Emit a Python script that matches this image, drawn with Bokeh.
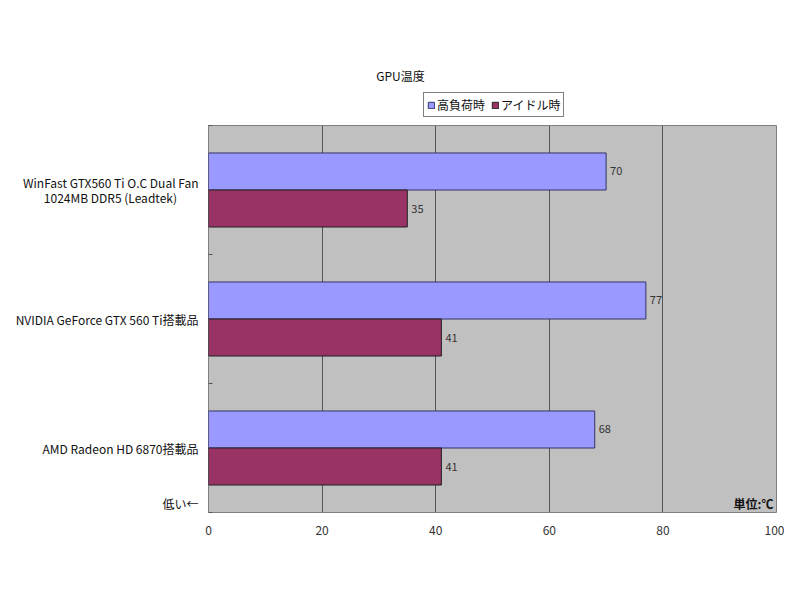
from bokeh.plotting import figure
from bokeh.models import (ColumnDataSource, Range1d, FixedTicker, Legend, LegendItem,
                          Label, LabelSet)
from bokeh.layouts import column
from bokeh.core.properties import value
from bokeh.transform import dodge
from bokeh.embed import file_html
from bokeh.resources import INLINE

NB = "\u00a0"
categories = ["WinFast GTX560 Ti O.C Dual Fan\n1024MB DDR5 (Leadtek)" + NB * 8,
              "NVIDIA GeForce GTX 560 Ti搭載品",
              "AMD Radeon HD 6870搭載品"]
high_load = [70, 77, 68]
idle = [35, 41, 41]
series_names = ["高負荷時", "アイドル時"]
series_colors = ["#9999FF", "#993366"]
x_ticks = [0, 20, 40, 60, 80, 100]
chart_title = "GPU温度"
low_note = "低い←"
unit_note = "単位:℃"

FONT = "Noto Sans CJK JP"
W = 784
TOP_H = 124
FRAME_LEFT = 208

n = len(categories)
centers = [n - i - 0.5 for i in range(n)]

src = ColumnDataSource(dict(y=centers, high=high_load, idle=idle,
                            high_lbl=[str(v) for v in high_load],
                            idle_lbl=[str(v) for v in idle]))

# ---------- header figure: title + legend ----------
# its y range lies far above the data, so its bar renderers only feed the legend
top = figure(width=W, height=TOP_H, output_backend="svg", toolbar_location=None,
             x_range=Range1d(0, 100), y_range=Range1d(100, 200),
             x_axis_type=None, y_axis_type=None,
             min_border_left=0, min_border_right=0,
             min_border_top=0, min_border_bottom=0)
top.grid.visible = False
top.outline_line_color = None
top.background_fill_color = "white"

d1 = top.hbar(y="y", right="high", height=0.287, source=src,
              fill_color=series_colors[0], line_color="#333366")
d2 = top.hbar(y="y", right="idle", height=0.287, source=src,
              fill_color=series_colors[1], line_color="#222222")

top.add_layout(Label(x=400 - FRAME_LEFT, y=TOP_H - 75, x_units="screen", y_units="screen",
                     text=chart_title, text_font=FONT, text_font_size="12px",
                     text_color="#111111", text_align="center", text_baseline="middle"))

legend = Legend(items=[LegendItem(label=series_names[0], renderers=[d1]),
                       LegendItem(label=series_names[1], renderers=[d2])],
                location=(423 - FRAME_LEFT, TOP_H - 117), orientation="horizontal",
                border_line_color="#000000", border_line_width=1,
                background_fill_color="white", background_fill_alpha=1,
                label_text_font=FONT, label_text_font_size="12px",
                label_text_color="#111111",
                glyph_width=8, glyph_height=8, label_standoff=2, spacing=6,
                padding=3, margin=0, label_height=12)
top.add_layout(legend, "center")

# ---------- main bar chart ----------
p = figure(width=W, height=430, output_backend="svg", toolbar_location=None,
           x_range=Range1d(0, 100), y_range=Range1d(0, n),
           min_border_left=FRAME_LEFT, min_border_right=8, min_border_top=1,
           min_border_bottom=42)
p.background_fill_color = "#C0C0C0"
p.border_fill_color = "white"
p.outline_line_color = "#808080"
p.outline_line_width = 1

bar_h = 0.287
r1 = p.hbar(y=dodge("y", bar_h / 2, range=p.y_range), right="high", left=0, height=bar_h,
            source=src, fill_color=series_colors[0], line_color="#333366", line_width=1)
r2 = p.hbar(y=dodge("y", -bar_h / 2, range=p.y_range), right="idle", left=0, height=bar_h,
            source=src, fill_color=series_colors[1], line_color="#222222", line_width=1)

lab_style = dict(text_font=value(FONT), text_font_size="11px", text_color="#333333",
                 text_baseline="middle", x_offset=4)
p.add_layout(LabelSet(x="high", y=dodge("y", bar_h / 2, range=p.y_range), text="high_lbl",
                      source=src, **lab_style))
p.add_layout(LabelSet(x="idle", y=dodge("y", -bar_h / 2, range=p.y_range), text="idle_lbl",
                      source=src, **lab_style))

# x axis
p.xaxis.ticker = FixedTicker(ticks=x_ticks)
p.xaxis.axis_line_color = None
p.xaxis.major_tick_line_color = None
p.xaxis.minor_tick_line_color = None
p.xaxis.major_tick_out = 0
p.xaxis.major_label_standoff = 13
p.xaxis.major_label_text_font = FONT
p.xaxis.major_label_text_font_size = "12px"
p.xaxis.major_label_text_color = "#333333"

p.xgrid.ticker = FixedTicker(ticks=x_ticks[1:-1])
p.xgrid.grid_line_color = "#555555"
p.xgrid.grid_line_width = 1
p.ygrid.grid_line_color = None

# y axis (category labels plus the "low" note near the bottom)
low_pos = 0.07
p.yaxis.ticker = FixedTicker(ticks=centers + [low_pos], minor_ticks=list(range(n + 1)))
overrides = {c: cat for c, cat in zip(centers, categories)}
overrides[low_pos] = low_note
p.yaxis.major_label_overrides = overrides
p.yaxis.axis_line_color = None
p.yaxis.major_tick_line_color = None
p.yaxis.major_tick_out = 0
p.yaxis.minor_tick_line_color = "#555555"
p.yaxis.minor_tick_in = 4
p.yaxis.minor_tick_out = 0
p.yaxis.major_label_standoff = 10
p.yaxis.major_label_text_font = FONT
p.yaxis.major_label_text_font_size = "12px"
p.yaxis.major_label_text_color = "#111111"
p.yaxis.major_label_text_line_height = 0.85

p.add_layout(Label(x=565, y=9, x_units="screen", y_units="screen", text=unit_note,
                   text_font=FONT, text_font_size="12px", text_color="#111111",
                   text_align="right", text_baseline="middle", text_font_style="bold"))

open("out.html", "w").write(file_html(column(top, p), INLINE))
